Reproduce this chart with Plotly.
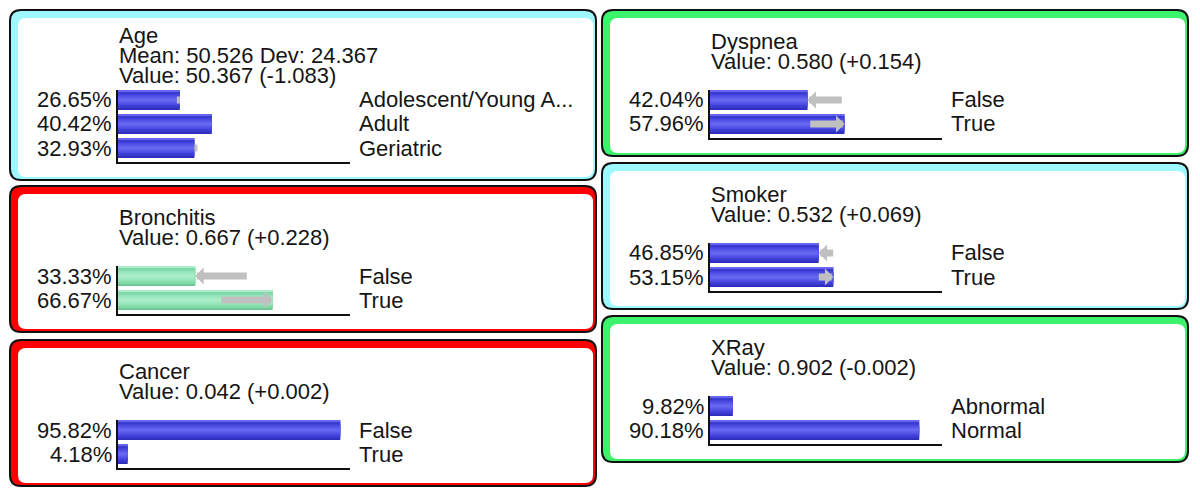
import plotly.graph_objects as go

W, H = 1200, 499

# ---------------- data ----------------
age_lines = ["Age", "Mean: 50.526 Dev: 24.367", "Value: 50.367 (-1.083)"]
age_states = ["Adolescent/Young A...", "Adult", "Geriatric"]
age_probs = [26.65, 40.42, 32.93]
age_prior = [24.73, 40.42, 34.85]

bron_lines = ["Bronchitis", "Value: 0.667 (+0.228)"]
bron_states = ["False", "True"]
bron_probs = [33.33, 66.67]
bron_prior = [56.13, 43.87]

cancer_lines = ["Cancer", "Value: 0.042 (+0.002)"]
cancer_states = ["False", "True"]
cancer_probs = [95.82, 4.18]
cancer_prior = [96.02, 3.98]

dysp_lines = ["Dyspnea", "Value: 0.580 (+0.154)"]
dysp_states = ["False", "True"]
dysp_probs = [42.04, 57.96]
dysp_prior = [57.44, 42.56]

smoker_lines = ["Smoker", "Value: 0.532 (+0.069)"]
smoker_states = ["False", "True"]
smoker_probs = [46.85, 53.15]
smoker_prior = [53.75, 46.25]

xray_lines = ["XRay", "Value: 0.902 (-0.002)"]
xray_states = ["Abnormal", "Normal"]
xray_probs = [9.82, 90.18]
xray_prior = [9.62, 90.38]

# ---------------- styling / layout ----------------
CYAN, RED, GREEN = "#9ef8ff", "#ff0000", "#3cf46c"
BLUE_SHADES = ["#2f2fbf", "#3b3bd3", "#4a4ae0", "#5959ea", "#6666f2"]
GREEN_SHADES = ["#6cc994", "#82d9a8", "#92e3b6", "#9fe9c0", "#aaeec9"]
FONT = "Liberation Sans, Arial, sans-serif"
TXT = "#151515"

panels = [
    dict(lines=age_lines, states=age_states, probs=age_probs, prior=age_prior,
         col=0, top=10, color=CYAN, shades=BLUE_SHADES, text0=33),
    dict(lines=bron_lines, states=bron_states, probs=bron_probs, prior=bron_prior,
         col=0, top=186, color=RED, shades=GREEN_SHADES, text0=39),
    dict(lines=cancer_lines, states=cancer_states, probs=cancer_probs, prior=cancer_prior,
         col=0, top=340, color=RED, shades=BLUE_SHADES, text0=39),
    dict(lines=dysp_lines, states=dysp_states, probs=dysp_probs, prior=dysp_prior,
         col=1, top=10, color=GREEN, shades=BLUE_SHADES, text0=39),
    dict(lines=smoker_lines, states=smoker_states, probs=smoker_probs, prior=smoker_prior,
         col=1, top=163, color=CYAN, shades=BLUE_SHADES, text0=39),
    dict(lines=xray_lines, states=xray_states, probs=xray_probs, prior=xray_prior,
         col=1, top=316, color=GREEN, shades=BLUE_SHADES, text0=39),
]
COL_X = [(10, 596), (602, 1188)]
ROW_H = 24
BAR_H = 20
AXIS_OFF = 108
AXIS_LEN = 232


def px(x):
    return x / W


def py(y):
    return 1 - y / H


def rrect(x0, y0, x1, y1, r):
    rx, ry = r / W, r / H
    X0, X1, Y0, Y1 = px(x0), px(x1), py(y0), py(y1)
    return (f"M{X0+rx},{Y0} L{X1-rx},{Y0} Q{X1},{Y0} {X1},{Y0-ry} "
            f"L{X1},{Y1+ry} Q{X1},{Y1} {X1-rx},{Y1} L{X0+rx},{Y1} "
            f"Q{X0},{Y1} {X0},{Y1+ry} L{X0},{Y0-ry} Q{X0},{Y0} {X0+rx},{Y0} Z")


fig = go.Figure()
shapes, annotations = [], []
layout_axes = {}

for k, p in enumerate(panels, start=1):
    n = len(p["probs"])
    xl, xr = COL_X[p["col"]]
    top = p["top"]
    bottom = top + 80 + ROW_H * n + 18
    # panel frame
    shapes.append(dict(type="path", xref="paper", yref="paper", layer="below",
                       path=rrect(xl, top, xr, bottom, 11),
                       fillcolor=p["color"], line=dict(color="#111", width=2)))
    shapes.append(dict(type="path", xref="paper", yref="paper", layer="below",
                       path=rrect(xl + 8, top + 8, xr - 3, bottom - 3, 8),
                       fillcolor="white", line=dict(width=0)))

    ax0 = xl + AXIS_OFF
    ax1 = ax0 + AXIS_LEN
    xname = "x" if k == 1 else f"x{k}"
    yname = "y" if k == 1 else f"y{k}"
    xkey = "xaxis" if k == 1 else f"xaxis{k}"
    ykey = "yaxis" if k == 1 else f"yaxis{k}"
    dom_top = top + 80
    dom_bot = top + 80 + ROW_H * n
    layout_axes[xkey] = dict(domain=[px(ax0), px(ax1)], range=[0, 100], anchor=yname,
                             showline=True, linecolor="#111", linewidth=2,
                             showticklabels=False, ticks="", showgrid=False,
                             zeroline=False, fixedrange=True)
    layout_axes[ykey] = dict(domain=[py(dom_bot), py(dom_top)],
                             range=[n - 0.5 + 2 / ROW_H, -0.5 + 2 / ROW_H], anchor=xname,
                             showline=True, linecolor="#111", linewidth=1.5,
                             showticklabels=False, ticks="", showgrid=False,
                             zeroline=False, fixedrange=True)

    rows = list(range(n))
    # gradient bars: stacked layers of decreasing thickness
    widths = [BAR_H, 16, 11, 7, 3]
    for shade, wpx in zip(p["shades"], widths):
        fig.add_trace(go.Bar(x=p["probs"], y=rows, orientation="h",
                             width=[wpx / ROW_H] * n, base=0,
                             marker=dict(color=shade, line=dict(width=0)),
                             xaxis=xname, yaxis=yname, hoverinfo="skip",
                             showlegend=False))
    # thin light top edge
    fig.add_trace(go.Bar(x=p["probs"], y=rows, orientation="h",
                         width=[1.2 / ROW_H] * n, offset=-BAR_H / 2 / ROW_H,
                         marker=dict(color=p["shades"][-1], line=dict(width=0)),
                         xaxis=xname, yaxis=yname, hoverinfo="skip", showlegend=False))

    # change arrows (prior -> current)
    for i, (cur, pri) in enumerate(zip(p["probs"], p["prior"])):
        dpx = abs(cur - pri) * AXIS_LEN / 100
        if dpx < 1:
            continue
        big = dpx > 12
        annotations.append(dict(xref=xname, yref=yname, axref=xname, ayref=yname,
                                x=cur, y=i, ax=pri, ay=i, text="", showarrow=True,
                                arrowhead=1 if big else 0, arrowsize=0.4,
                                arrowwidth=7, arrowcolor="#c0c0c0", standoff=0,
                                startstandoff=0))

    # title lines
    for j, line in enumerate(p["lines"]):
        base = top + p["text0"] + 20 * j
        annotations.append(dict(xref="paper", yref="paper", x=px(ax0), y=py(base - 7.6),
                                xanchor="left", yanchor="middle", text=line,
                                showarrow=False, font=dict(family=FONT, size=22, color=TXT),
                                borderpad=0))
    # row labels
    for i, (st, pr) in enumerate(zip(p["states"], p["probs"])):
        annotations.append(dict(xref="paper", yref=yname, x=px(ax0 - 5), y=i,
                                xanchor="right", yanchor="middle", text=f"{pr:.2f}%",
                                showarrow=False, font=dict(family=FONT, size=22, color=TXT),
                                borderpad=0))
        annotations.append(dict(xref="paper", yref=yname, x=px(ax1 + 8), y=i,
                                xanchor="left", yanchor="middle", text=st,
                                showarrow=False, font=dict(family=FONT, size=22, color=TXT),
                                borderpad=0))

fig.update_layout(width=W, height=H, margin=dict(l=0, r=0, t=0, b=0),
                  paper_bgcolor="white", plot_bgcolor="rgba(0,0,0,0)",
                  barmode="overlay", showlegend=False,
                  shapes=shapes, annotations=annotations, **layout_axes)

fig.write_html("out.html", config={"displayModeBar": False})
